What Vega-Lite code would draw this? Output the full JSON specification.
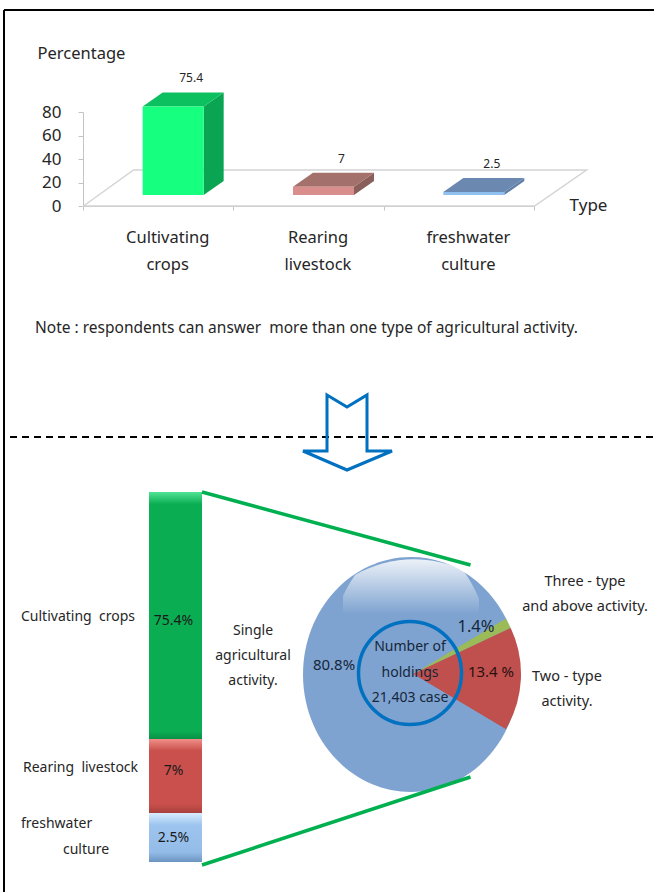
{"$schema":"https://vega.github.io/schema/vega-lite/v6.json","width":654,"height":892,"padding":0,"autosize":"none","background":"white","view":{"stroke":null},"config":{"text":{"font":"Noto Sans","fontSize":14,"color":"#262626"},"axis":{"labelFont":"Noto Sans","titleFont":"Noto Sans"}},"datasets":{"types":[{"type":"Cultivating crops","value":75.4,"start":9.5,"end":84.9,"labelAt":45.5,"seg":"75.4%"},{"type":"Rearing livestock","value":7,"start":2.5,"end":9.5,"labelAt":6.5,"seg":"7%"},{"type":"freshwater culture","value":2.5,"start":0,"end":2.5,"labelAt":1.2,"seg":"2.5%"}],"activity":[{"activity":"Three - type and above activity.","pct":1.4,"start":0,"end":1.4},{"activity":"Two - type activity.","pct":13.4,"start":1.4,"end":14.8},{"activity":"Single agricultural activity.","pct":80.8,"start":14.8,"end":95.6}]},"resolve":{"scale":{"x":"independent","y":"independent","color":"independent","theta":"independent","shape":"independent"},"axis":{"x":"independent","y":"independent"}},"layer":[{"data":{"values":[{}]},"mark":{"type":"point","shape":"M-2.25,0L-1.75,-.36L2.78,-.36L2.26,0Z","size":40000,"filled":false,"stroke":"#d4d4d4","strokeWidth":1.5,"opacity":1},"encoding":{"x":{"datum":"Rearing livestock","type":"nominal","scale":{"type":"band","domain":["Cultivating crops","Rearing livestock","freshwater culture"],"range":[83,534]},"axis":{"orient":"bottom","offset":-686,"grid":false,"domainColor":"#c4c4c4","tickColor":"#c4c4c4","tickSize":4,"tickBand":"extent","labelAngle":0,"labelFontSize":16.5,"labelColor":"#262626","labelPadding":19,"labelOffset":9,"labelLineHeight":27.5,"labelExpr":"split(datum.label,' ')","title":"Type","titleFontSize":17,"titleFontWeight":"normal","titleColor":"#262626","titleAlign":"center","titleBaseline":"middle","titleX":588,"titleY":-1}},"y":{"datum":0,"type":"quantitative","scale":{"domain":[0,80],"range":[206,112],"nice":false},"axis":{"orient":"left","offset":-83,"grid":false,"values":[0,20,40,60,80],"domainColor":"#c4c4c4","tickColor":"#c4c4c4","tickSize":5,"labelFontSize":17,"labelColor":"#262626","labelPadding":17,"title":"Percentage","titleAngle":0,"titleFontSize":16.5,"titleFontWeight":"normal","titleColor":"#262626","titleAlign":"center","titleBaseline":"middle","titleX":-2,"titleY":53}}}},{"data":{"name":"types"},"encoding":{"x":{"field":"type","type":"nominal","sort":null,"axis":null,"scale":{"type":"band","domain":["Cultivating crops","Rearing livestock","freshwater culture"],"range":[98,549]}},"y":{"field":"value","type":"quantitative","axis":null,"scale":{"domain":[0,80],"range":[195,101],"nice":false}}},"resolve":{"scale":{"color":"independent"}},"layer":[{"mark":{"type":"point","size":40000,"filled":true,"opacity":1,"strokeWidth":0},"encoding":{"shape":{"field":"type","legend":null,"scale":{"domain":["Cultivating crops","Rearing livestock","freshwater culture"],"range":["M.305,0L.505,-.14L.505,.746L.305,.886Z","M.305,0L.505,-.14L.505,-.058L.305,.082Z","M.305,0L.505,-.14L.505,-.111L.305,.029Z"]}},"color":{"field":"type","legend":null,"scale":{"domain":["Cultivating crops","Rearing livestock","freshwater culture"],"range":["#0aa552","#8a5f5b","#5f7ea8"]}}}},{"mark":{"type":"point","shape":"M-.305,0L.305,0L.505,-.14L-.105,-.14Z","size":40000,"filled":true,"opacity":1,"strokeWidth":0},"encoding":{"color":{"field":"type","legend":null,"scale":{"domain":["Cultivating crops","Rearing livestock","freshwater culture"],"range":["#0cc05f","#a4706b","#6a88b0"]}}}},{"mark":{"type":"bar","size":61},"encoding":{"color":{"field":"type","legend":null,"scale":{"domain":["Cultivating crops","Rearing livestock","freshwater culture"],"range":["#17ff7f","#d98e8c","#8fc0f0"]}}}},{"mark":{"type":"text","dx":18,"dy":-28,"fontSize":12},"encoding":{"text":{"field":"value","type":"quantitative"}}}]},{"data":{"name":"types"},"encoding":{"x":{"datum":149,"type":"quantitative","axis":null,"scale":{"domain":[0,654],"range":[0,654],"nice":false,"zero":false}},"x2":{"datum":202},"y":{"field":"start","type":"quantitative","axis":null,"scale":{"domain":[0,2.5,9.5,84.9],"range":[862,813,739,492]}},"y2":{"field":"end"}},"layer":[{"transform":[{"filter":"datum.value==75.4"}],"mark":{"type":"rect","color":{"gradient":"linear","x1":0,"y1":0,"x2":0,"y2":1,"stops":[{"offset":0,"color":"#4fe394"},{"offset":0.05,"color":"#0aad52"},{"offset":0.97,"color":"#0aad52"},{"offset":1,"color":"#089046"}]}}},{"transform":[{"filter":"datum.value==7"}],"mark":{"type":"rect","color":{"gradient":"linear","x1":0,"y1":0,"x2":0,"y2":1,"stops":[{"offset":0,"color":"#f08e88"},{"offset":0.16,"color":"#c9504c"},{"offset":0.88,"color":"#c9504c"},{"offset":1,"color":"#a8403d"}]}}},{"transform":[{"filter":"datum.value==2.5"}],"mark":{"type":"rect","color":{"gradient":"linear","x1":0,"y1":0,"x2":0,"y2":1,"stops":[{"offset":0,"color":"#d8ecff"},{"offset":0.25,"color":"#9cc4ee"},{"offset":0.8,"color":"#94bce8"},{"offset":1,"color":"#6c94c0"}]}}},{"mark":{"type":"text","fontSize":14,"color":"#1a1a1a"},"encoding":{"x":{"datum":173.5,"type":"quantitative"},"x2":null,"y":{"field":"labelAt","type":"quantitative"},"y2":null,"text":{"field":"seg"}}}]},{"data":{"values":[{}]},"mark":{"type":"point","shape":"M-1.08,0A1.08,1.175,0,1,1,1.08,0A1.08,1.175,0,1,1,-1.08,0Z","size":40000,"filled":true,"opacity":1,"strokeWidth":0,"fill":"#7ea3d0"},"encoding":{"x":{"datum":411,"type":"quantitative","axis":null,"scale":{"domain":[0,654],"range":[0,654],"nice":false,"zero":false}},"y":{"datum":674.5,"type":"quantitative","axis":null,"scale":{"domain":[0,892],"range":[0,892],"nice":false,"zero":false}}}},{"data":{"name":"activity"},"mark":{"type":"arc","outerRadius":108,"innerRadius":0},"encoding":{"x":{"datum":413,"type":"quantitative","axis":null,"scale":{"domain":[0,654],"range":[0,654],"nice":false,"zero":false}},"y":{"datum":674,"type":"quantitative","axis":null,"scale":{"domain":[0,892],"range":[0,892],"nice":false,"zero":false}},"theta":{"field":"start","type":"quantitative","scale":{"domain":[0,1.4,14.8,95.6],"range":[1.03,1.131,2.108,7.313]}},"theta2":{"field":"end"},"color":{"field":"activity","legend":null,"scale":{"domain":["Three - type and above activity.","Two - type activity.","Single agricultural activity."],"range":["#9bbb59","#c0504d","#7ea3d0"]}}}},{"data":{"values":[{}]},"encoding":{"x":{"datum":413,"type":"quantitative","axis":null,"scale":{"domain":[0,654],"range":[0,654],"nice":false,"zero":false}},"y":{"datum":674,"type":"quantitative","axis":null,"scale":{"domain":[0,892],"range":[0,892],"nice":false,"zero":false}}},"layer":[{"mark":{"type":"point","shape":"M-.7,-.6L-.7,-.78Q-.66,-.87,-.58,-.99A1.175,1.175,0,0,1,.5,-1.04Q.6,-.9,.66,-.75L.66,-.6Z","size":40000,"filled":true,"opacity":1,"strokeWidth":0,"fill":{"gradient":"linear","x1":0,"y1":0,"x2":0,"y2":1,"stops":[{"offset":0,"color":"rgba(255,255,255,0.85)"},{"offset":1,"color":"rgba(255,255,255,0)"}]}}},{"mark":{"type":"point","shape":"circle","size":10609,"filled":false,"stroke":"#0070c0","strokeWidth":3.5,"opacity":1},"encoding":{"x":{"datum":410},"y":{"datum":673}}},{"mark":{"type":"rule","stroke":"#000000","strokeWidth":2},"encoding":{"x":{"datum":4},"y":{"datum":10},"y2":{"datum":892}}},{"mark":{"type":"rule","stroke":"#000000","strokeWidth":2},"encoding":{"x":{"datum":4},"x2":{"datum":654},"y":{"datum":10}}},{"mark":{"type":"rule","stroke":"#000000","strokeWidth":2,"strokeDash":[7,5]},"encoding":{"x":{"datum":10},"x2":{"datum":654},"y":{"datum":437}}},{"mark":{"type":"rule","stroke":"#00b050","strokeWidth":3.5},"encoding":{"x":{"datum":202},"y":{"datum":492},"x2":{"datum":470.5},"y2":{"datum":565}}},{"mark":{"type":"rule","stroke":"#00b050","strokeWidth":3.5},"encoding":{"x":{"datum":202},"y":{"datum":865},"x2":{"datum":470.5},"y2":{"datum":777}}},{"mark":{"type":"point","shape":"M-.2,-.38L0,-.26L.2,-.38L.2,.18L.45,.18L0,.37L-.44,.18L-.2,.18Z","size":40000,"filled":false,"stroke":"#0070c0","strokeWidth":3,"opacity":1},"encoding":{"x":{"datum":347},"y":{"datum":433}}},{"mark":{"type":"text","align":"left","fontSize":15.5},"encoding":{"x":{"datum":35},"y":{"datum":328},"text":{"value":"Note : respondents can answer \u00a0more than one type of agricultural activity."}}},{"mark":{"type":"text","fontSize":14,"lineHeight":25},"encoding":{"x":{"datum":253},"y":{"datum":631},"text":{"value":["Single","agricultural","activity."]}}},{"mark":{"type":"text","fontSize":14.5,"lineHeight":25},"encoding":{"x":{"datum":585},"y":{"datum":582},"text":{"value":["Three - type","and above activity."]}}},{"mark":{"type":"text","fontSize":14.5,"lineHeight":25},"encoding":{"x":{"datum":567},"y":{"datum":677},"text":{"value":["Two - type","activity."]}}},{"mark":{"type":"text","fontSize":14,"lineHeight":25.5,"color":"#16263a"},"encoding":{"x":{"datum":410},"y":{"datum":647},"text":{"value":["Number of","holdings","21,403 case"]}}},{"mark":{"type":"text","fontSize":15,"color":"#16263a"},"encoding":{"x":{"datum":334},"y":{"datum":665},"text":{"value":"80.8%"}}},{"mark":{"type":"text","fontSize":15,"color":"#2a1010"},"encoding":{"x":{"datum":491},"y":{"datum":672},"text":{"value":"13.4 %"}}},{"mark":{"type":"text","fontSize":16.5,"color":"#16263a"},"encoding":{"x":{"datum":476},"y":{"datum":627},"text":{"value":"1.4%"}}},{"mark":{"type":"text","align":"left","fontSize":14},"encoding":{"x":{"datum":21},"y":{"datum":617},"text":{"value":"Cultivating \u00a0crops"}}},{"mark":{"type":"text","align":"left","fontSize":14},"encoding":{"x":{"datum":23},"y":{"datum":768},"text":{"value":"Rearing \u00a0livestock"}}},{"mark":{"type":"text","align":"left","fontSize":14},"encoding":{"x":{"datum":21},"y":{"datum":824},"text":{"value":"freshwater"}}},{"mark":{"type":"text","align":"left","fontSize":14},"encoding":{"x":{"datum":63},"y":{"datum":850},"text":{"value":"culture"}}}]}]}
